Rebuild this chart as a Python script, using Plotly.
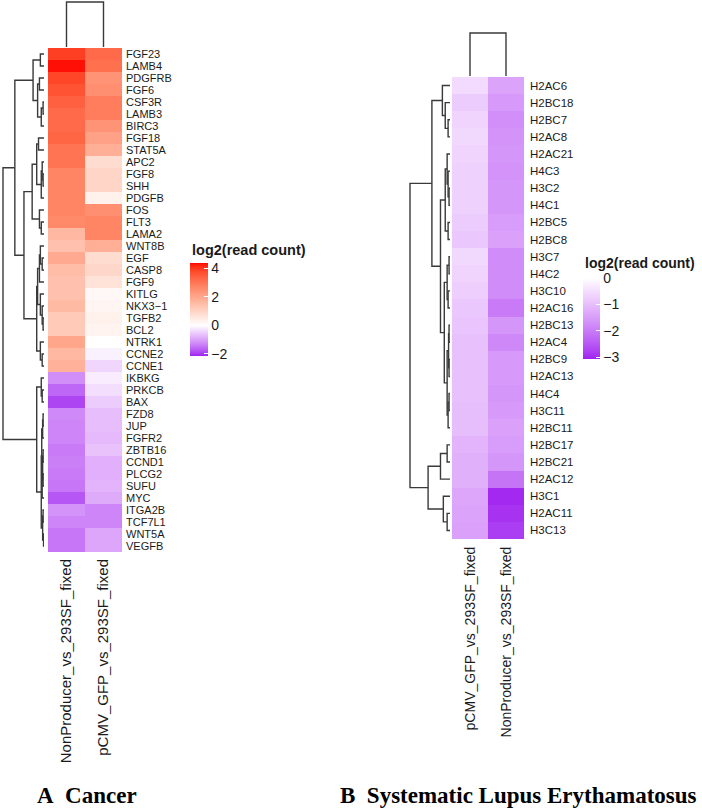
import numpy as np
import plotly.graph_objects as go

W, H = 702, 811

# ---------------- Panel A : Cancer ----------------
genes_a = ["FGF23", "LAMB4", "PDGFRB", "FGF6", "CSF3R", "LAMB3", "BIRC3", "FGF18", "STAT5A",
           "APC2", "FGF8", "SHH", "PDGFB", "FOS", "FLT3", "LAMA2", "WNT8B", "EGF", "CASP8",
           "FGF9", "KITLG", "NKX3\u22121", "TGFB2", "BCL2", "NTRK1", "CCNE2", "CCNE1", "IKBKG",
           "PRKCB", "BAX", "FZD8", "JUP", "FGFR2", "ZBTB16", "CCND1", "PLCG2", "SUFU", "MYC",
           "ITGA2B", "TCF7L1", "WNT5A", "VEGFB"]
samples_a = ["NonProducer_vs_293SF_fixed", "pCMV_GFP_vs_293SF_fixed"]
nonproducer_a = [3.9, 4.3, 3.8, 3.6, 3.4, 3.2, 3.2, 3.3, 3.0, 3.0, 2.7, 2.7, 2.7, 2.7, 2.6,
                 1.6, 1.4, 1.9, 1.5, 1.4, 1.4, 1.55, 1.2, 1.2, 2.0, 1.6, 1.75,
                 -1.2, -1.6, -1.9, -1.25, -1.3, -1.3, -1.4, -1.35, -1.4, -1.45, -1.75,
                 -1.15, -1.3, -1.45, -1.45]
pcmv_a = [3.2, 3.1, 2.4, 2.5, 2.85, 2.85, 2.4, 2.1, 1.8, 0.8, 0.95, 0.95, 0.3, 2.5, 2.7,
          2.7, 1.8, 0.8, 0.9, 0.65, 0.15, 0.2, 0.3, 0.25, 0.0, -0.15, -0.45,
          -0.2, -0.35, -0.55, -0.7, -0.7, -0.75, -0.65, -0.85, -0.85, -0.8, -0.9,
          -1.3, -1.3, -0.95, -0.95]
range_a = [-2.14, 4.35]
ticks_a = [-2, 0, 2, 4]
ticktext_a = ["\u22122", "0", "2", "4"]
# row clustering merges [left, right, height]; ids < n are rows, n+k is merge k
rowtree_a = [[0, 1, 4], [2, 3, 5], [4, 5, 1], [44, 6, 3], [43, 45, 7], [42, 46, 12],
             [7, 8, 6], [10, 11, 1], [9, 49, 2], [50, 12, 3], [48, 51, 8], [14, 15, 3],
             [13, 53, 5], [52, 54, 13], [17, 18, 2], [16, 56, 4], [57, 19, 5], [22, 23, 1],
             [21, 59, 2], [20, 60, 4], [58, 61, 7], [25, 26, 2], [24, 63, 4], [62, 64, 8],
             [55, 65, 22], [47, 66, 32], [28, 29, 2], [27, 68, 3], [30, 31, 1], [70, 32, 1.5],
             [33, 34, 1], [35, 36, 1], [72, 73, 1.5], [74, 37, 2], [71, 75, 2.5], [38, 39, 1],
             [40, 41, 0.5], [77, 78, 1.5], [76, 79, 3], [69, 80, 8], [67, 81, 45]]
coltree_a = [[0, 1, 45]]

# ---------------- Panel B : Systematic Lupus Erythamatosus ----------------
genes_b = ["H2AC6", "H2BC18", "H2BC7", "H2AC8", "H2AC21", "H4C3", "H3C2", "H4C1", "H2BC5",
           "H2BC8", "H3C7", "H4C2", "H3C10", "H2AC16", "H2BC13", "H2AC4", "H2BC9", "H2AC13",
           "H4C4", "H3C11", "H2BC11", "H2BC17", "H2BC21", "H2AC12", "H3C1", "H2AC11", "H3C13"]
samples_b = ["pCMV_GFP_vs_293SF_fixed", "NonProducer_vs_293SF_fixed"]
pcmv_b = [-0.55, -0.8, -0.65, -0.6, -0.65, -0.7, -0.7, -0.7, -0.8, -0.85, -0.6, -0.65, -0.75,
          -0.85, -0.9, -0.95, -0.95, -0.95, -0.95, -1.0, -1.0, -1.15, -1.2, -1.2, -1.35,
          -1.4, -1.45]
nonproducer_b = [-1.4, -1.55, -1.7, -1.65, -1.6, -1.65, -1.6, -1.6, -1.5, -1.45, -1.75, -1.75,
                 -1.75, -2.0, -1.6, -1.8, -1.55, -1.55, -1.6, -1.55, -1.45, -1.5, -1.6, -2.1,
                 -3.0, -2.9, -2.8]
range_b = [-3.06, 0.04]
ticks_b = [-3, -2, -1, 0]
ticktext_b = ["\u22123", "\u22122", "\u22121", "0"]
rowtree_b = [[2, 3, 2], [1, 27, 5], [0, 28, 8], [6, 7, 1], [5, 30, 2], [4, 31, 3], [8, 9, 2],
             [32, 33, 5], [10, 11, 1], [12, 13, 2], [35, 36, 3], [14, 15, 1], [16, 17, 1],
             [38, 39, 1.5], [18, 19, 1], [41, 20, 2], [40, 42, 3], [37, 43, 6], [34, 44, 10],
             [29, 45, 19], [21, 22, 3], [47, 23, 10], [25, 26, 3], [24, 49, 7], [48, 50, 23],
             [46, 51, 42]]
coltree_b = [[0, 1, 44]]

LOW, MID, HIGH = (160, 32, 240), (255, 255, 255), (255, 0, 0)

# ---------- colour helpers (LAB interpolation like colorRamp2) ----------
M = np.array([[0.4124, 0.3576, 0.1805], [0.2126, 0.7152, 0.0722], [0.0193, 0.1192, 0.9505]])
WP = np.array([0.95047, 1.0, 1.08883])


def to_lab(rgb):
    c = np.asarray(rgb, float) / 255
    lin = np.where(c <= 0.04045, c / 12.92, ((c + 0.055) / 1.055) ** 2.4)
    t = (M @ lin) / WP
    f = np.where(t > 216 / 24389, np.cbrt(t), (24389 / 27 * t + 16) / 116)
    return np.array([116 * f[1] - 16, 500 * (f[0] - f[1]), 200 * (f[1] - f[2])])


def to_rgb(lab):
    L, a, b = lab
    fy = (L + 16) / 116
    f = np.array([fy + a / 500, fy, fy - b / 200])
    t = np.where(f ** 3 > 216 / 24389, f ** 3, (116 * f - 16) / (24389 / 27))
    lin = np.clip(np.linalg.inv(M) @ (t * WP), 0, 1)
    c = np.where(lin <= 0.0031308, 12.92 * lin, 1.055 * lin ** (1 / 2.4) - 0.055)
    c = np.clip(np.round(c * 255), 0, 255).astype(int)
    return "rgb(%d,%d,%d)" % tuple(c)


def colorscale(vmin, vmax, anchors):
    vals = [a[0] for a in anchors]
    labs = [to_lab(a[1]) for a in anchors]
    out = []
    for v in np.linspace(vmin, vmax, 101):
        vv = min(max(v, vals[0]), vals[-1])
        i = int(np.searchsorted(vals, vv, side="right") - 1)
        i = min(max(i, 0), len(vals) - 2)
        t = (vv - vals[i]) / (vals[i + 1] - vals[i])
        out.append([(v - vmin) / (vmax - vmin), to_rgb(labs[i] * (1 - t) + labs[i + 1] * t)])
    out[0][0], out[-1][0] = 0.0, 1.0
    return out


def dendro(merges, n):
    pos = {i: float(i) for i in range(n)}
    hgt = {i: 0.0 for i in range(n)}
    hs, ps = [], []
    for k, (a, b, h) in enumerate(merges):
        hs += [hgt[a], h, h, hgt[b], None]
        ps += [pos[a], pos[a], pos[b], pos[b], None]
        pos[n + k] = (pos[a] + pos[b]) / 2
        hgt[n + k] = h
    return hs, ps


def xd(p0, p1):
    return [p0 / W, p1 / W]


def yd(top, bottom):
    return [1 - bottom / H, 1 - top / H]


LINE = dict(color="#3a3a3a", width=1.4)
FONT = "Liberation Sans, Arial, sans-serif"
TXT = "#1a1a1a"

fig = go.Figure()

# ---- panel geometry (pixels) ----
A_L, A_R, A_T, A_B = 48, 122, 48, 552
B_L, B_R, B_T, B_B = 452, 524, 77, 539

# Panel A
za = [[nonproducer_a[i], pcmv_a[i]] for i in range(len(genes_a))]
fig.add_trace(go.Heatmap(z=za, x=[0, 1], y=list(range(len(genes_a))), coloraxis="coloraxis",
                         xaxis="x", yaxis="y", hoverinfo="skip"))
h, p = dendro(rowtree_a, len(genes_a))
fig.add_trace(go.Scatter(x=h, y=p, mode="lines", line=LINE, xaxis="x2", yaxis="y2",
                         hoverinfo="skip", showlegend=False))
h, p = dendro(coltree_a, 2)
fig.add_trace(go.Scatter(x=p, y=h, mode="lines", line=LINE, xaxis="x3", yaxis="y3",
                         hoverinfo="skip", showlegend=False))

# Panel B
zb = [[pcmv_b[i], nonproducer_b[i]] for i in range(len(genes_b))]
fig.add_trace(go.Heatmap(z=zb, x=[0, 1], y=list(range(len(genes_b))), coloraxis="coloraxis2",
                         xaxis="x4", yaxis="y4", hoverinfo="skip"))
h, p = dendro(rowtree_b, len(genes_b))
fig.add_trace(go.Scatter(x=h, y=p, mode="lines", line=LINE, xaxis="x5", yaxis="y5",
                         hoverinfo="skip", showlegend=False))
h, p = dendro(coltree_b, 2)
fig.add_trace(go.Scatter(x=p, y=h, mode="lines", line=LINE, xaxis="x6", yaxis="y6",
                         hoverinfo="skip", showlegend=False))

hidden = dict(visible=False, showgrid=False, zeroline=False, fixedrange=True)


def rmax(root, near_px, far_px, root_px):
    return root * abs(near_px - far_px) / abs(near_px - root_px)


na, nb = len(genes_a), len(genes_b)
fig.update_layout(
    width=W, height=H, margin=dict(l=0, r=0, t=0, b=0),
    paper_bgcolor="white", plot_bgcolor="rgba(0,0,0,0)", showlegend=False,
    font=dict(family=FONT, color=TXT),
    # ---- A ----
    xaxis=dict(domain=xd(A_L, A_R), range=[-0.5, 1.5], anchor="y", tickvals=[0, 1],
               ticktext=samples_a, tickangle=-90, tickfont=dict(size=15, color=TXT),
               showgrid=False, zeroline=False, ticks="", ticklabelstandoff=3, fixedrange=True),
    yaxis=dict(domain=yd(A_T, A_B), range=[na - 0.5, -0.5], anchor="x", side="right",
               tickvals=list(range(na)), ticktext=genes_a, tickfont=dict(size=11, color=TXT),
               showgrid=False, zeroline=False, ticks="", ticklabelstandoff=3, fixedrange=True),
    xaxis2=dict(hidden, domain=xd(0, 44), range=[rmax(45, 44, 0, 3), 0], anchor="y2"),
    yaxis2=dict(hidden, domain=yd(A_T, A_B), range=[na - 0.5, -0.5], anchor="x2"),
    xaxis3=dict(hidden, domain=xd(A_L, A_R), range=[-0.5, 1.5], anchor="y3"),
    yaxis3=dict(hidden, domain=yd(0, 47), range=[0, rmax(45, 47, 0, 2)], anchor="x3"),
    # ---- B ----
    xaxis4=dict(domain=xd(B_L, B_R), range=[-0.5, 1.5], anchor="y4", tickvals=[0, 1],
                ticktext=samples_b, tickangle=-90, tickfont=dict(size=14, color=TXT),
                showgrid=False, zeroline=False, ticks="", ticklabelstandoff=4, fixedrange=True),
    yaxis4=dict(domain=yd(B_T, B_B), range=[nb - 0.5, -0.5], anchor="x4", side="right",
                tickvals=list(range(nb)), ticktext=genes_b, tickfont=dict(size=11.5, color=TXT),
                showgrid=False, zeroline=False, ticks="", ticklabelstandoff=5, fixedrange=True),
    xaxis5=dict(hidden, domain=xd(402, 450), range=[rmax(42, 450, 402, 410), 0], anchor="y5"),
    yaxis5=dict(hidden, domain=yd(B_T, B_B), range=[nb - 0.5, -0.5], anchor="x5"),
    xaxis6=dict(hidden, domain=xd(B_L, B_R), range=[-0.5, 1.5], anchor="y6"),
    yaxis6=dict(hidden, domain=yd(28, 76), range=[0, rmax(44, 76, 28, 33)], anchor="x6"),
    coloraxis=dict(
        cmin=range_a[0], cmax=range_a[1],
        colorscale=colorscale(range_a[0], range_a[1], [(range_a[0], LOW), (0, MID), (range_a[1], HIGH)]),
        colorbar=dict(x=190 / W, xanchor="left", y=1 - 263 / H, yanchor="top", len=93,
                      lenmode="pixels", thickness=18, thicknessmode="pixels", xpad=0, ypad=0,
                      outlinewidth=0, tickvals=ticks_a, ticktext=ticktext_a, ticks="inside",
                      ticklen=4, tickcolor="white", tickfont=dict(size=14, color=TXT))),
    coloraxis2=dict(
        cmin=range_b[0], cmax=range_b[1],
        colorscale=colorscale(range_b[0], range_b[1], [(range_b[0], LOW), (0, MID), (range_b[1], MID)]),
        colorbar=dict(x=583 / W, xanchor="left", y=1 - 277 / H, yanchor="top", len=82,
                      lenmode="pixels", thickness=17, thicknessmode="pixels", xpad=0, ypad=0,
                      outlinewidth=0, tickvals=ticks_b, ticktext=ticktext_b, ticks="inside",
                      ticklen=4, tickcolor="white", tickfont=dict(size=14, color=TXT))),
)

annots = [
    dict(text="<b>log2(read count)</b>", x=190 / W, y=1 - 250 / H, xanchor="left", yanchor="middle",
         font=dict(size=14.5, color=TXT)),
    dict(text="<b>log2(read count)</b>", x=583 / W, y=1 - 263 / H, xanchor="left", yanchor="middle",
         font=dict(size=14, color=TXT)),
    dict(text="<b>A\u00a0 Cancer</b>", x=35 / W, y=1 - 795 / H, xanchor="left", yanchor="middle",
         font=dict(size=23, color="black", family="Liberation Serif, Times New Roman, serif")),
    dict(text="<b>B\u00a0 Systematic Lupus Erythamatosus</b>", x=338 / W, y=1 - 795 / H,
         xanchor="left", yanchor="middle",
         font=dict(size=23, color="black", family="Liberation Serif, Times New Roman, serif")),
]
for a in annots:
    a.update(xref="paper", yref="paper", showarrow=False)
fig.update_layout(annotations=annots)

fig.write_html("out.html")
